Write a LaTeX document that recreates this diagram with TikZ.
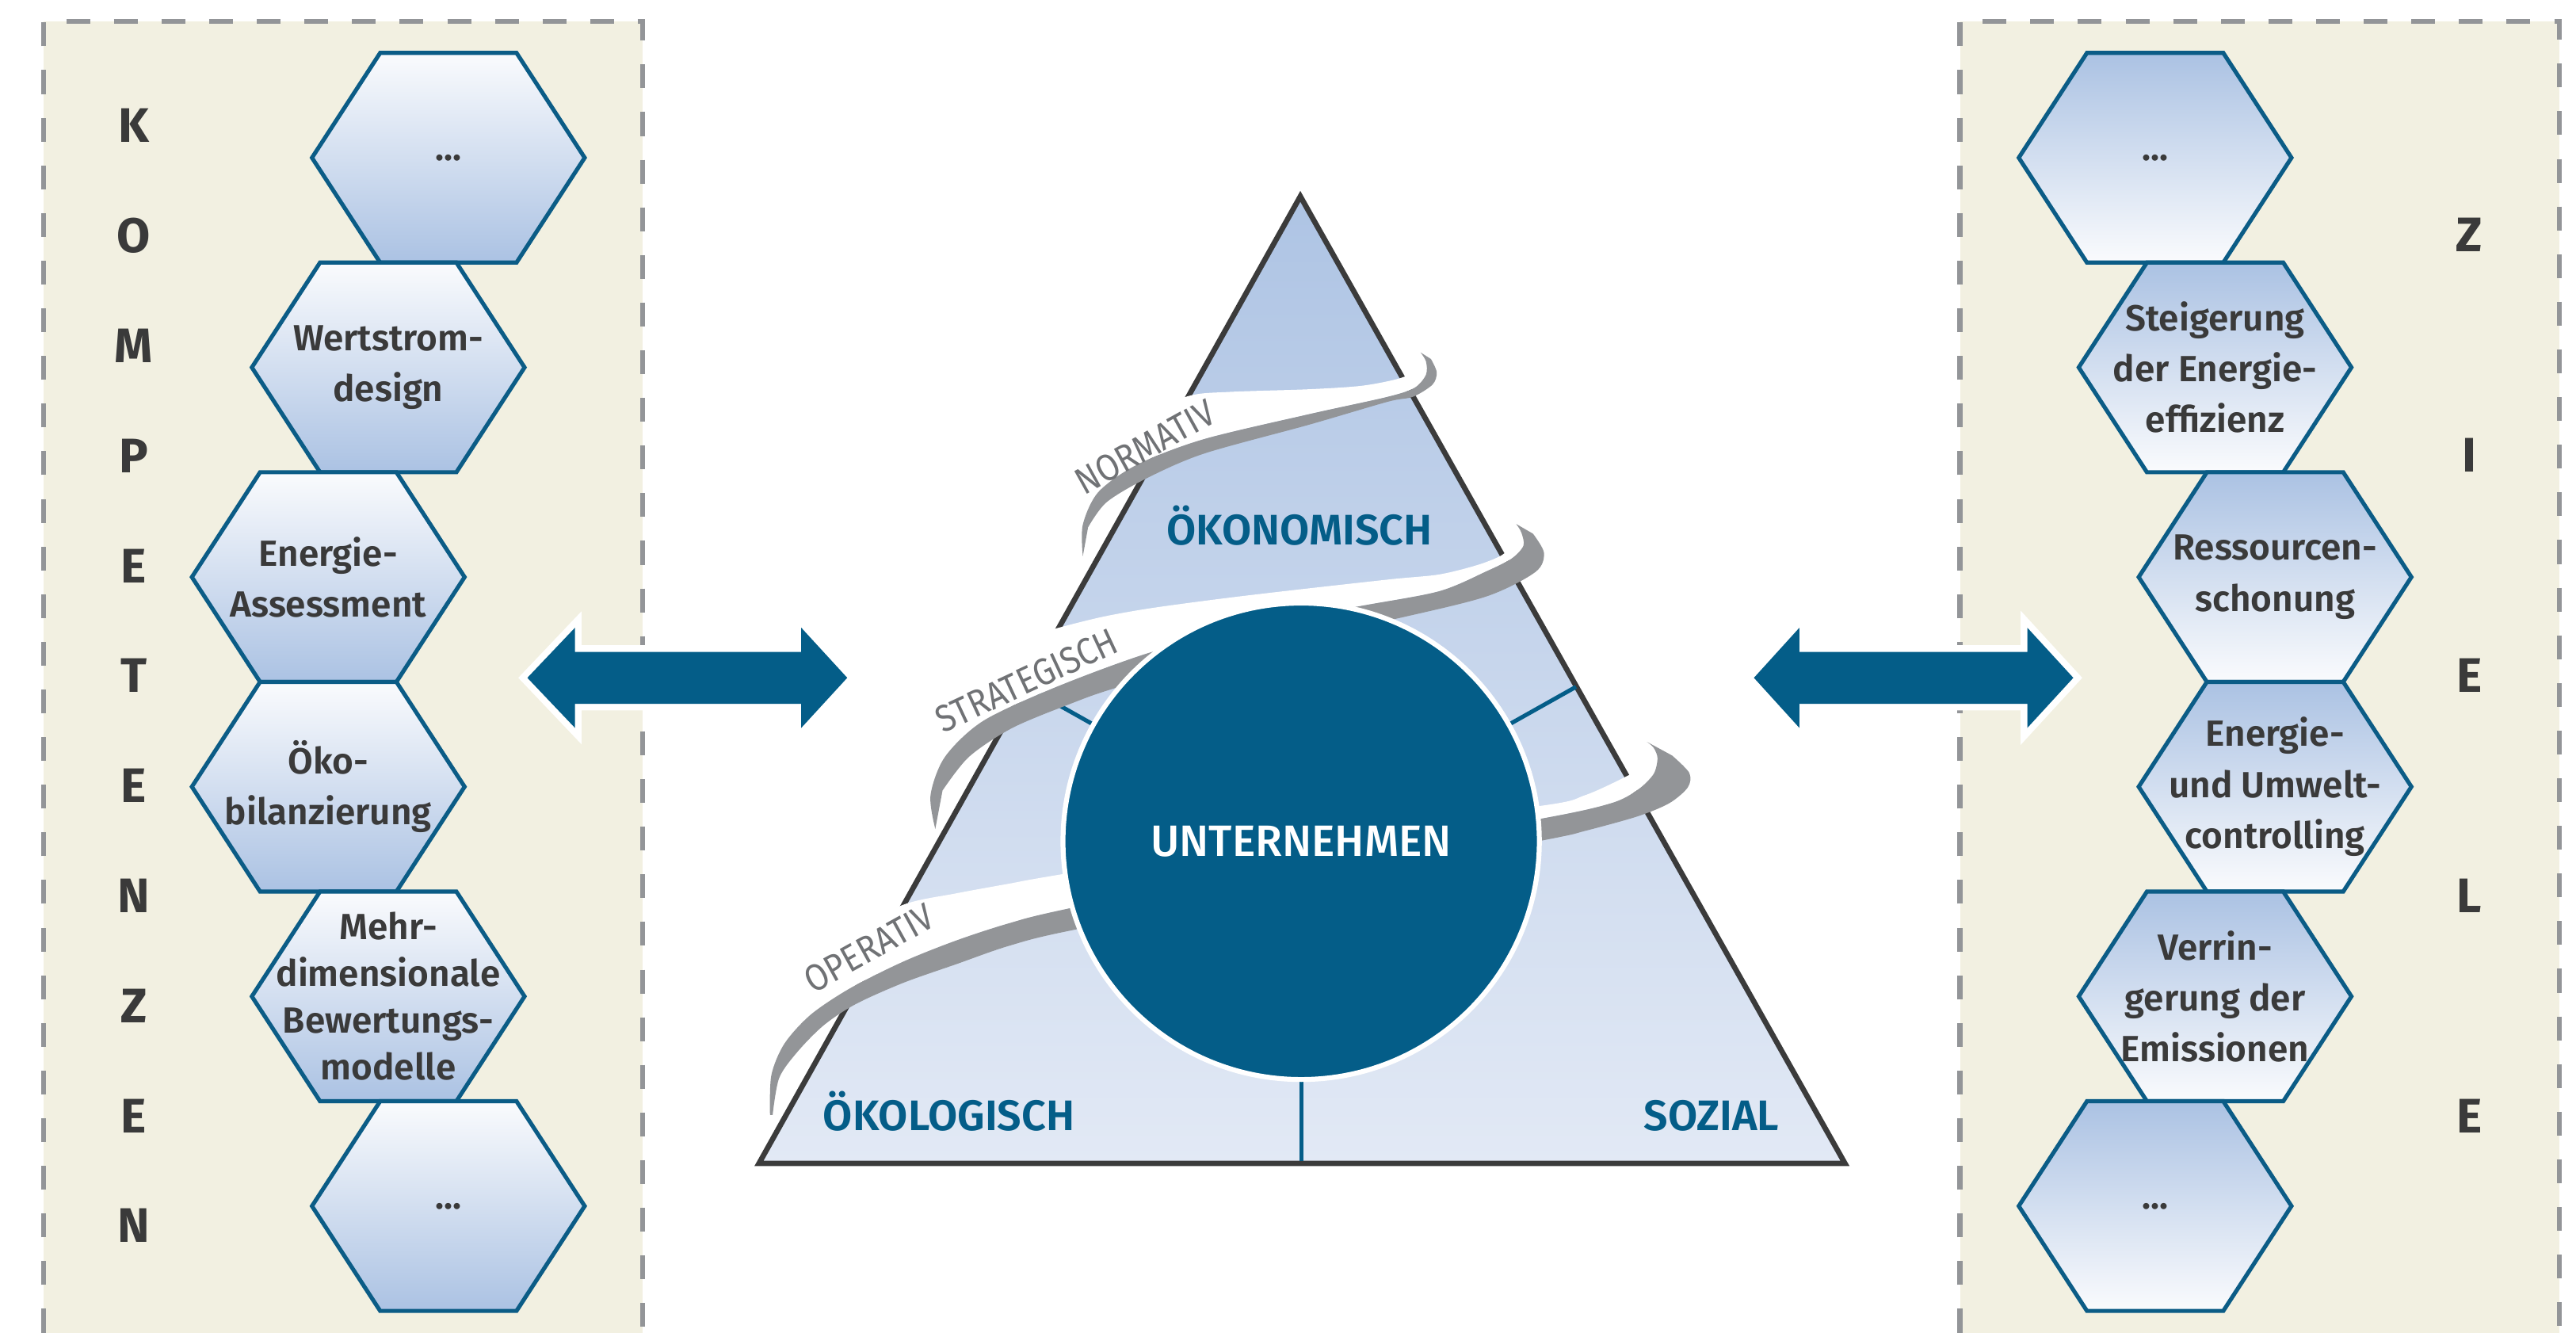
\documentclass[tikz,border=0pt]{standalone}
\usepackage{fontspec}
\setmainfont{Fira Sans}
\IfFontExistsTF{Fira Sans Medium}{\newfontfamily\medfont{Fira Sans Medium}}{\newfontfamily\medfont{Fira Sans}}
\IfFontExistsTF{Fira Sans SemiBold}{\newfontfamily\semifont{Fira Sans SemiBold}}{\newfontfamily\semifont{Fira Sans}[FakeBold=1.5]}
\newfontfamily\condfont{Fira Sans}[FakeStretch=0.88]
\definecolor{panelbg}{HTML}{F2F0E1}
\definecolor{dashgray}{HTML}{939598}
\definecolor{dkblue}{HTML}{045D88}
\definecolor{hexedge}{HTML}{0B5C86}
\definecolor{hexblue}{HTML}{ABC2E3}
\definecolor{hexlight}{HTML}{FAFBFD}
\definecolor{tritop}{HTML}{AEC4E4}
\definecolor{tribot}{HTML}{E2E9F5}
\definecolor{ribgray}{HTML}{939598}
\definecolor{ribtext}{HTML}{707275}
\definecolor{txtdark}{HTML}{3A3A3A}
\definecolor{trioutline}{HTML}{3B3B3B}
\newcommand{\hexnode}[6]{%
  \shadedraw[hexline, #4, shift={(#2,#3)}] (-83,0) -- (-41.5,-63.8) -- (41.5,-63.8) -- (83,0) -- (41.5,63.8) -- (-41.5,63.8) -- cycle;
  \node[#6] (#1) at (#2,#3) {#5};
}
\begin{document}
\begin{tikzpicture}[x=0.02cm, y=-0.02cm,
  hexline/.style={draw=hexedge, line width=0.05cm, line join=miter},
  leftgrad/.style={top color=hexlight, bottom color=hexblue},
  rightgrad/.style={top color=hexblue, bottom color=hexlight},
  hextext/.style={align=center, text=txtdark, font=\semifont\fontsize{12.6}{17.6}\selectfont, inner sep=0pt},
  hextextfour/.style={hextext, font=\semifont\fontsize{12.6}{16.2}\selectfont},
  bigletter/.style={text=txtdark, font=\bfseries\fontsize{16.8}{18}\selectfont, inner sep=0pt},
  panelborder/.style={draw=dashgray, line width=0.06cm, dash pattern=on 0.29cm off 0.29cm},
  arrowedge/.style={draw=white, line width=0.16cm, line join=miter},
  arrowfill/.style={fill=dkblue},
  innerline/.style={draw=dkblue, line width=0.05cm},
  ribbonwhite/.style={fill=white},
  ribbongray/.style={fill=ribgray},
  ribbontext/.style={text=ribtext, font=\condfont\fontsize{13}{14}\selectfont, inner sep=0pt},
  trilabel/.style={text=dkblue, font=\semifont\fontsize{14.8}{16}\selectfont, inner sep=0pt, anchor=base},
  corecircle/.style={circle, fill=dkblue, draw=white, line width=0.06cm, minimum size=5.8cm, inner sep=0pt, text=white, font=\medfont\fontsize{15.2}{17}\selectfont}
]
\useasboundingbox (0,0) rectangle (1568,811);
\fill[white] (0,0) rectangle (1568,811);

% panels
\fill[panelbg] (26.5,13) rectangle (391,811);
\draw[panelborder] (26.5,811) -- (26.5,13) -- (391,13) -- (391,811);
\fill[panelbg] (1193,13) rectangle (1558,811);
\draw[panelborder] (1193,811) -- (1193,13) -- (1558,13) -- (1558,811);

% left letters
\foreach \l [count=\i] in {K,O,M,P,E,T,E,N,Z,E,N}
  \node[bigletter] (kl\i) at (81.4,{76.5+66.95*(\i-1)}) {\l};
% right letters
\foreach \l [count=\i] in {Z,I,E,L,E}
  \node[bigletter] (zl\i) at (1503,{143+134*(\i-1)}) {\l};

% left hexagons
\hexnode{lh1}{272.9}{96}{leftgrad}{...}{hextext}
\hexnode{lh2}{236.3}{223.6}{leftgrad}{Wertstrom-\\design}{hextext}
\hexnode{lh3}{199.8}{351.2}{leftgrad}{Energie-\\Assessment}{hextext}
\hexnode{lh4}{199.8}{478.8}{leftgrad}{Öko-\\bilanzierung}{hextext}
\hexnode{lh5}{236.3}{606.4}{leftgrad}{Mehr-\\dimensionale\\Bewertungs-\\modelle}{hextextfour}
\hexnode{lh6}{272.9}{734}{leftgrad}{...}{hextext}

% right hexagons
\hexnode{rh1}{1311.8}{96}{rightgrad}{...}{hextext}
\hexnode{rh2}{1348.3}{223.6}{rightgrad}{Steigerung\\der Energie-\\effizienz}{hextext}
\hexnode{rh3}{1384.8}{351.2}{rightgrad}{Ressourcen-\\schonung}{hextext}
\hexnode{rh4}{1384.8}{478.8}{rightgrad}{Energie-\\und Umwelt-\\controlling}{hextext}
\hexnode{rh5}{1348.3}{606.4}{rightgrad}{Verrin-\\gerung der\\Emissionen}{hextext}
\hexnode{rh6}{1311.8}{734}{rightgrad}{...}{hextext}

% double arrows
\path[arrowedge] (321,412.5) -- (350,382) -- (350,396.7) -- (487.7,396.7) -- (487.7,382) -- (515.7,412.5) -- (487.7,443) -- (487.7,428.3) -- (350,428.3) -- (350,443) -- cycle;
\path[arrowfill] (321,412.5) -- (350,382) -- (350,396.7) -- (487.7,396.7) -- (487.7,382) -- (515.7,412.5) -- (487.7,443) -- (487.7,428.3) -- (350,428.3) -- (350,443) -- cycle;
\path[arrowedge] (1067.6,412.5) -- (1095.3,382) -- (1095.3,396.7) -- (1234,396.7) -- (1234,382) -- (1262,412.5) -- (1234,443) -- (1234,428.3) -- (1095.3,428.3) -- (1095.3,443) -- cycle;
\path[arrowfill] (1067.6,412.5) -- (1095.3,382) -- (1095.3,396.7) -- (1234,396.7) -- (1234,382) -- (1262,412.5) -- (1234,443) -- (1234,428.3) -- (1095.3,428.3) -- (1095.3,443) -- cycle;

% pyramid
\shadedraw[top color=tritop, bottom color=tribot, draw=trioutline, line width=0.065cm] (791.5,119.5) -- (1123,708) -- (462,708) -- cycle;
\coordinate (ctr) at (792,512);
\coordinate (fl) at (624.7,418);
\coordinate (fr) at (959.3,418);
\coordinate (fb) at (792,706.5);
\draw[innerline] (ctr) -- (fl);
\draw[innerline] (ctr) -- (fr);
\draw[innerline] (ctr) -- (fb);

% ribbon OPERATIV
\fill[ribbonwhite] plot[smooth] coordinates {(474,632) (488,596) (515,569) (549.9,550.6) (582,543.7) (614.2,537.8) (645.6,532.2) (800,507) (938.1,490.4) (964.7,484) (988,473.5) (999,467) (1004,459) (1002.5,451.5)}
  -- plot[smooth] coordinates {(1006.5,455) (1008.9,461.4) (1006.5,471.1) (996.8,480.7) (980.8,488.8) (938.9,498.1) (800,522) (649.6,553.1) (614.2,561.9) (582,572.4) (549.9,585.2) (517.7,601.3) (493.6,617.4) (477.5,635.1)} -- cycle;
\fill[ribbongray] plot[smooth] coordinates {(468.7,678.5) (469.5,654.4) (477.5,635.1) (493.6,617.4) (517.7,601.3) (549.9,585.2) (582,572.4) (614.2,561.9) (649.6,553.1) (800,522) (938.9,498.1) (980.8,488.8) (996.8,480.7) (1006.5,471.1) (1008.9,461.4) (1006.5,455) (1002.5,451.5)}
  -- plot[smooth] coordinates {(1017.8,459.8) (1028.2,470.3) (1027.4,479.1) (1016.1,488.8) (996.8,496.8) (964.7,505.7) (939.8,511.3) (800,538) (653.6,565.9) (614.2,575.6) (582,586.8) (549.9,598.1) (521,611) (501.6,623.8) (485.6,639.9) (474.3,656) (470.3,678.5)} -- cycle;

% ribbon STRATEGISCH
\fill[ribbonwhite] plot[smooth] coordinates {(566,445) (575,420) (600,400) (625,388) (645.3,381.8) (671.6,375.3) (700.8,370.1) (744.6,364.2) (788.5,359) (846.9,352.5) (876.1,349.6) (899.5,343.8) (914.1,337.9) (921,331) (923.5,324) (922.9,318.9)}
  -- plot[smooth] coordinates {(926,324) (927.3,332.1) (920,340) (905,347.6) (876.1,359.8) (829.4,368.6) (760,381) (697.9,397.8) (642.4,418.3) (598.5,438.7) (575.2,460.6)} -- cycle;
\fill[ribbongray] plot[smooth] coordinates {(569.3,504.5) (566.4,484) (575.2,460.6) (598.5,438.7) (642.4,418.3) (697.9,397.8) (760,381) (829.4,368.6) (876.1,359.8) (905,347.6) (920,340) (927.3,332.1) (926,324) (922.9,318.9)}
  -- plot[smooth] coordinates {(933.1,324.8) (939.8,336.5) (934.6,348.1) (905.3,362.8) (852.7,375.9) (760,396) (680.3,418.3) (651.1,428.5) (616,443.1) (589.8,460.6) (573.7,481.1)} -- cycle;

% ribbon NORMATIV
\fill[ribbonwhite] plot[smooth] coordinates {(660,300) (672,272) (695,253) (723.9,240.9) (748.7,238.5) (796.7,236.9) (828.7,234.8) (851.1,230.5) (862,225.5) (865.5,219) (864.7,214.5)}
  -- plot[smooth] coordinates {(868,220) (868,228) (861,236) (844.7,241.5) (796.7,252.1) (732.7,267.3) (692.7,282.5) (668.7,299.3)} -- cycle;
\fill[ribbongray] plot[smooth] coordinates {(659.1,338.5) (659.1,319.3) (668.7,299.3) (692.7,282.5) (732.7,267.3) (796.7,252.1) (844.7,241.5) (861,236) (868,228) (868,220) (864.7,214.5)}
  -- plot[smooth] coordinates {(871,218.5) (874.5,226.5) (872,234) (860,241.5) (844.7,244.5) (796.7,258.5) (732.7,276.1) (697.5,291.3) (673.5,305.7) (662.3,320.9)} -- cycle;

% ribbon labels
\node[ribbontext, rotate=29] (tnorm) at (697,272) {NORMATIV};
\node[ribbontext, rotate=25] (tstrat) at (625,414) {STRATEGISCH};
\node[ribbontext, rotate=29] (toper) at (529,577) {OPERATIV};

% centre circle
\node[corecircle] (unt) at (ctr) {UNTERNEHMEN};

% pyramid labels
\node[trilabel] (oekon) at (791,331.4) {ÖKONOMISCH};
\node[trilabel] (oekol) at (577.6,688) {ÖKOLOGISCH};
\node[trilabel] (soz) at (1041.8,688) {SOZIAL};
\end{tikzpicture}
\end{document}
